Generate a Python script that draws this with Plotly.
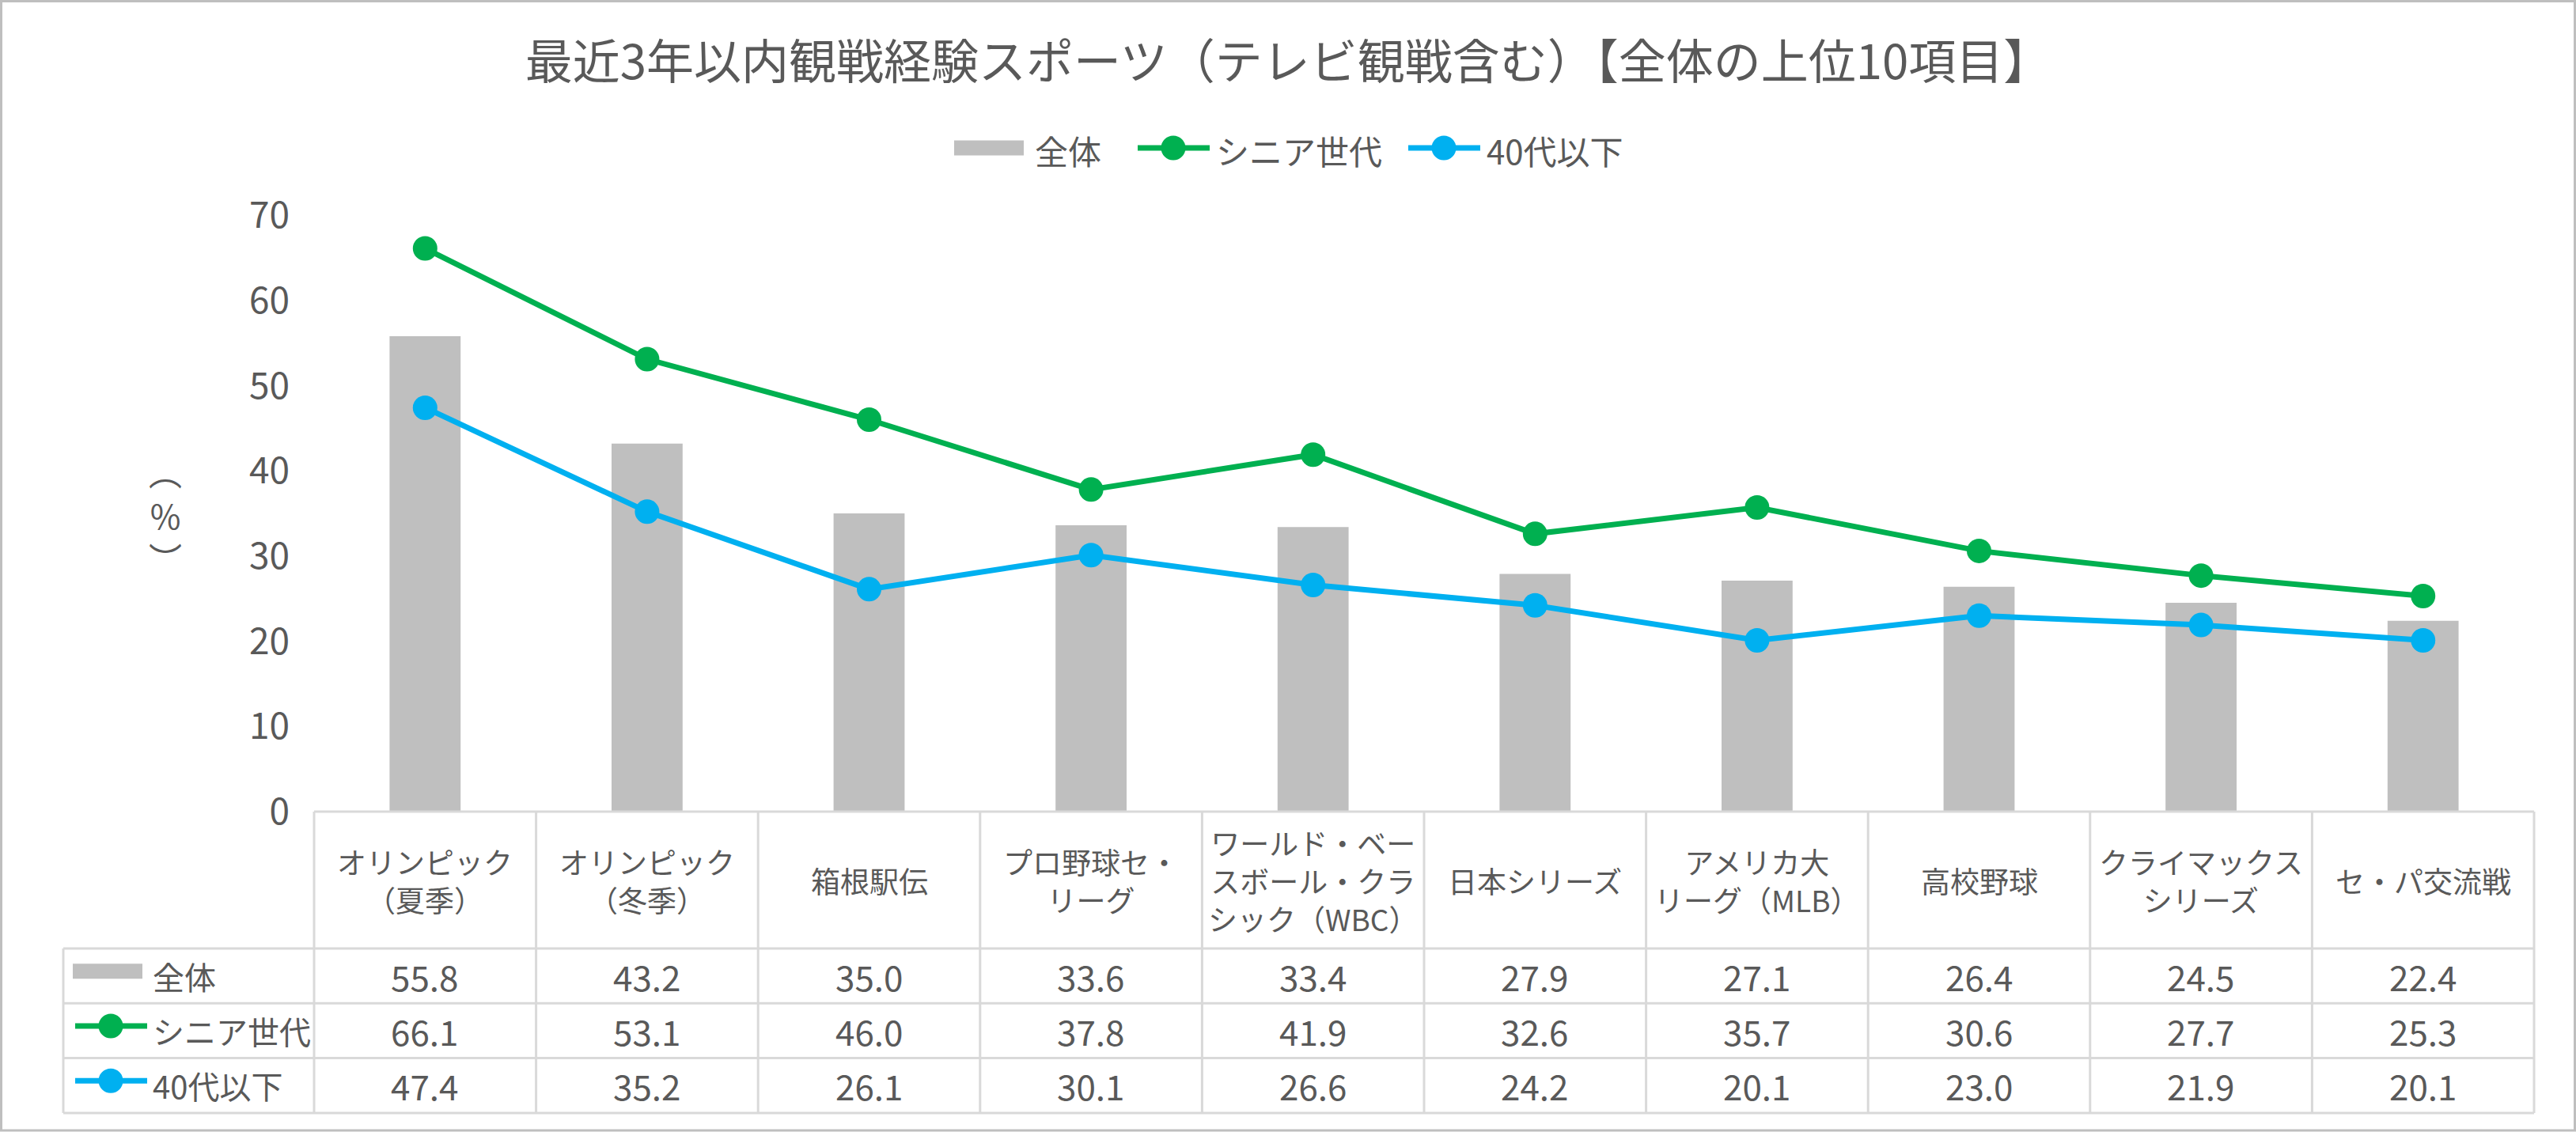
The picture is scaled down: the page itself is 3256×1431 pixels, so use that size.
import plotly.graph_objects as go

# データ（最近3年以内観戦経験スポーツ 上位10項目、%）
categories = [
    "オリンピック<br>（夏季）",
    "オリンピック<br>（冬季）",
    "箱根駅伝",
    "プロ野球セ・<br>リーグ",
    "ワールド・ベー<br>スボール・クラ<br>シック（WBC）",
    "日本シリーズ",
    "アメリカ大<br>リーグ（MLB）",
    "高校野球",
    "クライマックス<br>シリーズ",
    "セ・パ交流戦",
]
overall = [55.8, 43.2, 35.0, 33.6, 33.4, 27.9, 27.1, 26.4, 24.5, 22.4]
senior = [66.1, 53.1, 46.0, 37.8, 41.9, 32.6, 35.7, 30.6, 27.7, 25.3]
under40 = [47.4, 35.2, 26.1, 30.1, 26.6, 24.2, 20.1, 23.0, 21.9, 20.1]
series_names = ["全体", "シニア世代", "40代以下"]
y_ticks = [0, 10, 20, 30, 40, 50, 60, 70]

title_text = "最近3年以内観戦経験スポーツ（テレビ観戦含む）【全体の上位10項目】"
y_title = "︵<br>%<br>︶"

GRAY = "#BFBFBF"
GREEN = "#00B050"
BLUE = "#00B0F0"
TEXT = "#595959"
GRID = "#D9D9D9"
FONT = "Noto Sans CJK JP"

# レイアウト（ピクセル）
W, H = 3256, 1431
L, R, T, B = 397, 53, 272, 405
TABLE_LEFT = 80
HEADER_H = 173
ROW_H = 69.3


def px(x):
    return (x - L) / (W - L - R)


def py(y):
    return (H - B - y) / (H - T - B)


fig = go.Figure()

fig.add_trace(go.Bar(
    x=categories, y=overall, name=series_names[0],
    marker=dict(color=GRAY, line=dict(width=0)),
))
fig.add_trace(go.Scatter(
    x=categories, y=senior, name=series_names[1], mode="lines+markers",
    line=dict(color=GREEN, width=7), marker=dict(color=GREEN, size=31),
))
fig.add_trace(go.Scatter(
    x=categories, y=under40, name=series_names[2], mode="lines+markers",
    line=dict(color=BLUE, width=7), marker=dict(color=BLUE, size=31),
))

shapes = []
annotations = []


def key(kind, color, x0, yc):
    # 凡例記号（棒 or 線＋マーカー）
    if kind == "bar":
        shapes.append(dict(type="rect", xref="paper", yref="paper",
                           x0=px(x0), x1=px(x0 + 88), y0=py(yc + 9.5), y1=py(yc - 9.5),
                           fillcolor=color, line=dict(width=0)))
    else:
        shapes.append(dict(type="line", xref="paper", yref="paper",
                           x0=px(x0 + 3), x1=px(x0 + 94), y0=py(yc), y1=py(yc),
                           line=dict(color=color, width=7)))
        mx = x0 + 48
        shapes.append(dict(type="circle", xref="paper", yref="paper",
                           x0=px(mx - 15.5), x1=px(mx + 15.5), y0=py(yc + 15.5), y1=py(yc - 15.5),
                           fillcolor=color, line=dict(width=0)))


def label(text, x, yc, size, anchor="left"):
    annotations.append(dict(text=text, xref="paper", yref="paper", x=px(x), y=py(yc),
                            xanchor=anchor, yanchor="middle", showarrow=False,
                            font=dict(size=size, color=TEXT, family=FONT)))


kinds = ["bar", "line", "line"]
colors = [GRAY, GREEN, BLUE]

# 上部の凡例
legend_x = [1206, 1435, 1777]
for kind, color, name, x0 in zip(kinds, colors, series_names, legend_x):
    key(kind, color, x0, 187)
    label(name, x0 + 100, 189, 42)

# データテーブル
top = H - B
n = len(categories)
col_w = (W - L - R) / n
rows = [overall, senior, under40]
bottom = top + HEADER_H + ROW_H * len(rows)

# 横線
shapes.append(dict(type="line", xref="paper", yref="paper", x0=px(L), x1=px(W - R),
                   y0=py(top), y1=py(top), line=dict(color=GRID, width=3)))
for r in range(len(rows) + 1):
    yy = top + HEADER_H + ROW_H * r
    shapes.append(dict(type="line", xref="paper", yref="paper", x0=px(TABLE_LEFT), x1=px(W - R),
                       y0=py(yy), y1=py(yy), line=dict(color=GRID, width=3)))
# 縦線
shapes.append(dict(type="line", xref="paper", yref="paper", x0=px(TABLE_LEFT), x1=px(TABLE_LEFT),
                   y0=py(top + HEADER_H), y1=py(bottom), line=dict(color=GRID, width=3)))
for c in range(n + 1):
    xx = L + col_w * c
    shapes.append(dict(type="line", xref="paper", yref="paper", x0=px(xx), x1=px(xx),
                       y0=py(top), y1=py(bottom), line=dict(color=GRID, width=3)))

# 見出し行
for cat in categories:
    annotations.append(dict(text=cat, xref="x", yref="paper", x=cat, y=py(top + HEADER_H / 2),
                            xanchor="center", yanchor="middle", showarrow=False,
                            font=dict(size=37, color=TEXT, family=FONT)))

# 各行
for r, (vals, kind, color, name) in enumerate(zip(rows, kinds, colors, series_names)):
    yc = top + HEADER_H + ROW_H * (r + 0.5)
    key(kind, color, 92, yc - 6)
    label(name, 191, yc, 40)
    for cat, v in zip(categories, vals):
        annotations.append(dict(text=f"{v:.1f}", xref="x", yref="paper", x=cat, y=py(yc),
                                xanchor="center", yanchor="middle", showarrow=False,
                                font=dict(size=44, color=TEXT, family=FONT)))

# 縦軸タイトル（%）
annotations.append(dict(text=y_title, xref="paper", yref="paper", x=px(209), y=py(650),
                        xanchor="center", yanchor="middle", showarrow=False,
                        font=dict(size=42, color=TEXT, family=FONT)))

# 外枠
shapes.append(dict(type="rect", xref="paper", yref="paper", x0=px(1.5), x1=px(3254.5),
                   y0=py(1429), y1=py(1.5), line=dict(color=GRAY, width=3)))

fig.update_layout(
    width=W, height=H, autosize=False,
    margin=dict(l=L, r=R, t=T, b=B),
    paper_bgcolor="white", plot_bgcolor="white",
    font=dict(family=FONT, color=TEXT),
    title=dict(text=title_text, x=0.5, xref="container", xanchor="center",
               y=1 - 79 / H, yref="container", yanchor="middle",
               font=dict(size=60, color=TEXT, family=FONT)),
    showlegend=False,
    bargap=0.68,
    shapes=shapes,
    annotations=annotations,
)
fig.update_xaxes(range=[-0.5, n - 0.5], showticklabels=False, showgrid=False, showline=False,
                 zeroline=False, ticks="")
fig.update_yaxes(range=[0, 70], tickvals=y_ticks, showgrid=False, showline=False, zeroline=False,
                 ticks="", ticklabelstandoff=30, tickfont=dict(size=46, color=TEXT, family=FONT))

fig.write_html("out.html", config={"displayModeBar": False},
               post_script="document.body.style.margin='0';")
